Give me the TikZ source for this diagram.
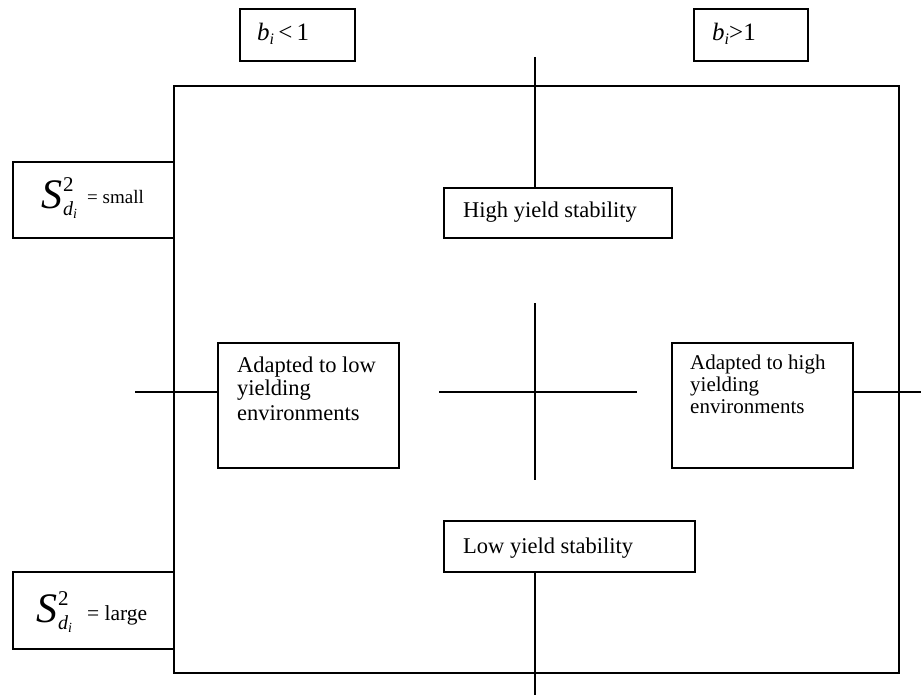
\documentclass[tikz,border=0pt]{standalone}
\usepackage{fontspec}
\setmainfont{Liberation Serif}
\newcommand{\fsz}[1]{\fontsize{#1}{#1}\selectfont}
\newcommand{\Sdi}{{\fsz{42}\itshape S}\hspace{1pt}\rlap{\raisebox{17pt}{\fsz{21}2}}\raisebox{-7pt}{\fsz{20}\itshape d\raisebox{-3pt}{\fsz{14}\itshape i}}}
\begin{document}
\begin{tikzpicture}[
  x=1pt, y=-1pt,
  ln/.style={line width=1.6pt, black},
  box/.style={draw, line width=1.6pt, inner sep=0pt, anchor=north west},
  txt/.style={inner sep=0pt, anchor=base west},
]
\useasboundingbox (0,0) rectangle (921,698);
% main frame
\node[box, minimum width=725pt, minimum height=587pt] (frame) at (173,85) {};
% top boxes
\node[box, minimum width=115pt, minimum height=52pt] (b1) at (239,8) {};
\node[box, minimum width=114pt, minimum height=52pt] (b2) at (693,8) {};
\node[txt, font=\fsz{25}] (b1t) at (257,41) {{\itshape b}\raisebox{-4pt}{\fsz{16}\itshape i}\,<\,1};
\node[txt, font=\fsz{25}] (b2t) at (712,41) {{\itshape b}\raisebox{-4pt}{\fsz{16}\itshape i}>1};
% S boxes
\node[box, minimum width=161pt, minimum height=76pt] (s1) at (12,161) {};
\node[box, minimum width=161pt, minimum height=77pt] (s2) at (12,571) {};
\node[txt] (s1S) at (41,208) {\Sdi};
\node[txt, font=\fsz{19}] (s1t) at (87,203) {= small};
\node[txt] (s2S) at (36,622) {\Sdi};
\node[txt, font=\fsz{21.5}] (s2t) at (87,620) {= large};
% stability boxes
\node[box, minimum width=228pt, minimum height=50pt] (hi) at (443,187) {};
\node[txt, font=\fsz{22.5}] (hit) at (463,217) {High yield stability};
\node[box, minimum width=251pt, minimum height=51pt] (lo) at (443,520) {};
\node[txt, font=\fsz{22.5}] (lot) at (463,553) {Low yield stability};
% adapted boxes
\node[box, minimum width=181pt, minimum height=125pt] (lb) at (217,342) {};
\node[txt, font=\fsz{22.5}] (lb1) at (237,372) {Adapted to low};
\node[txt, font=\fsz{22.5}] (lb2) at (237,395) {yielding};
\node[txt, font=\fsz{22.5}] (lb3) at (237,420) {environments};
\node[box, minimum width=181pt, minimum height=125pt] (rb) at (671,342) {};
\node[txt, font=\fsz{21}] (rb1) at (690,369) {Adapted to high};
\node[txt, font=\fsz{21}] (rb2) at (690,391) {yielding};
\node[txt, font=\fsz{21}] (rb3) at (690,413) {environments};
% connectors
\coordinate (tTop) at (535,57);
\coordinate (bBot) at (535,695);
\draw[ln] (tTop) -- (tTop |- hi.north);
\draw[ln] (bBot |- lo.south) -- (bBot);
\coordinate (cl) at (439,392);
\coordinate (cr) at (637,392);
\coordinate (ct) at (535,303);
\coordinate (cb) at (535,480);
\draw[ln] (cl) -- (cr);
\draw[ln] (ct) -- (cb);
\coordinate (lL) at (135,392);
\coordinate (rR) at (921,392);
\draw[ln] (lL) -- (lL -| lb.west);
\draw[ln] (rR -| rb.east) -- (rR);
\end{tikzpicture}
\end{document}
